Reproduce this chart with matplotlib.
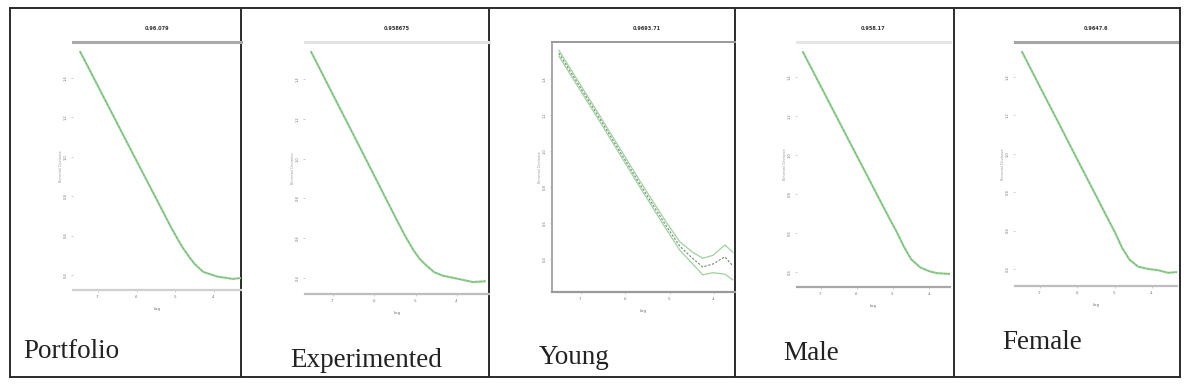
import numpy as np
import matplotlib
matplotlib.use("Agg")
import matplotlib.pyplot as plt

W, H = 1196, 391

# Panel names and the small header text over each curve
groups = ["Portfolio", "Experimented", "Young", "Male", "Female"]
titles = ["0.96.079", "0.958675", "0.9693.71", "0.958.17", "0.9647.6"]

# Tick values shared by the five small plots
x_ticks = [1, 2, 3, 4]
x_tick_labels = ["-7", "-6", "-5", "-4"]
y_ticks = [1, 2, 3, 4, 5, 6]
y_tick_labels = ["0.4", "0.6", "0.8", "1.0", "1.2", "1.4"]

# Curves (log lambda, deviance in tick units)
portfolio_x = [0.54, 1.0, 1.5, 2.0, 2.5, 2.9, 3.05, 3.2, 3.35, 3.5, 3.72, 4.08, 4.49, 4.67]
portfolio_y = [6.66, 5.79, 4.84, 3.89, 2.95, 2.19, 1.93, 1.68, 1.47, 1.28, 1.08, 0.96, 0.90, 0.92]

experimented_x = [0.47, 1.0, 1.5, 2.0, 2.5, 2.75, 2.95, 3.1, 3.28, 3.45, 3.66, 4.08, 4.39, 4.68]
experimented_y = [6.68, 5.60, 4.59, 3.57, 2.55, 2.05, 1.70, 1.48, 1.30, 1.15, 1.06, 0.97, 0.90, 0.92]

young_x = [0.50, 1.43, 2.33, 2.90, 3.23, 3.51, 3.75, 3.98, 4.25, 4.43]
young_y = [6.72, 4.89, 3.08, 1.97, 1.36, 1.03, 0.78, 0.86, 1.06, 0.81]
young_upper = [6.80, 4.97, 3.17, 2.07, 1.48, 1.20, 1.02, 1.10, 1.39, 1.19]
young_lower = [6.64, 4.81, 3.00, 1.88, 1.25, 0.88, 0.56, 0.62, 0.58, 0.42]

male_x = [0.50, 1.0, 1.5, 2.0, 2.5, 2.9, 3.1, 3.3, 3.5, 3.75, 4.0, 4.22, 4.58]
male_y = [6.64, 5.75, 4.86, 3.97, 3.08, 2.37, 2.03, 1.65, 1.33, 1.12, 1.02, 0.97, 0.95]

female_x = [0.52, 1.0, 1.5, 2.0, 2.5, 2.8, 3.0, 3.2, 3.4, 3.63, 3.9, 4.16, 4.43, 4.67]
female_y = [6.65, 5.74, 4.80, 3.85, 2.91, 2.34, 1.97, 1.55, 1.24, 1.06, 1.00, 0.97, 0.90, 0.92]

curves = [(portfolio_x, portfolio_y), (experimented_x, experimented_y),
          (young_x, young_y), (male_x, male_y), (female_x, female_y)]

# Layout in pixels: table cells, plot boxes, limits, caption positions
cell_edges = [9.5, 241, 489, 735, 954, 1180]
table_top, table_bottom = 8, 377
boxes = [(73, 241, 42, 290), (305, 489, 42, 294), (552, 735, 42, 292),
         (797, 950, 42, 287), (1015, 1177, 42, 286)]
xlims = [(0.353, 4.70), (0.32, 4.78), (0.345, 4.48), (0.333, 4.58), (0.33, 4.67)]
ylims = [(0.619, 6.91), (0.60, 6.93), (0.083, 7.03), (0.615, 6.90), (0.557, 6.91)]
top_colors = ["#a9a9a9", "#e2e2e2", "#9a9a9a", "#e6e6e6", "#a5a5a5"]
bottom_colors = ["#d0d0d0", "#bdbdbd", "#9a9a9a", "#a8a8a8", "#bdbdbd"]
caption_pos = [(23, 358), (290, 367), (539, 364), (783, 360), (1002, 349)]

fig = plt.figure(figsize=(W / 100, H / 100), dpi=100)

# Background axes in pixel units for the table grid and captions
bg = fig.add_axes([0, 0, 1, 1])
bg.set_xlim(0, W)
bg.set_ylim(H, 0)
bg.axis("off")
for xe in cell_edges:
    bg.plot([xe, xe], [table_top, table_bottom], color="#2b2b2b", lw=1.4,
            solid_capstyle="projecting")
bg.plot([cell_edges[0], cell_edges[-1]], [table_top, table_top], color="#2b2b2b", lw=1.4)
bg.plot([cell_edges[0], cell_edges[-1]], [table_bottom, table_bottom], color="#2b2b2b", lw=1.4)
for name, (cx, cy) in zip(groups, caption_pos):
    bg.text(cx, cy, name, family="Liberation Serif", fontsize=19.5,
            color="#222222", va="baseline", ha="left")

for i in range(5):
    left, right, top, bottom = boxes[i]
    ax = fig.add_axes([left / W, 1 - bottom / H, (right - left) / W, (bottom - top) / H])
    ax.patch.set_alpha(0)
    ax.set_xlim(*xlims[i])
    ax.set_ylim(*ylims[i])
    for side in ["left", "right"]:
        ax.spines[side].set_visible(False)
    ax.spines["top"].set_color(top_colors[i])
    ax.spines["top"].set_linewidth(2.2 if i != 2 else 1.4)
    ax.spines["bottom"].set_color(bottom_colors[i])
    ax.spines["bottom"].set_linewidth(1.6)
    if i == 2:
        ax.spines["left"].set_visible(True)
        ax.spines["left"].set_color("#9a9a9a")
        ax.spines["left"].set_linewidth(1.2)
    ax.set_xticks(x_ticks)
    ax.set_xticklabels(x_tick_labels)
    ax.set_yticks(y_ticks)
    ax.set_yticklabels(y_tick_labels, rotation=90, va="center")
    ax.tick_params(axis="both", length=1.5, width=0.5, colors="#bbbbbb",
                   labelsize=2.6, labelcolor="#777777", pad=2)
    ax.set_xlabel("Log", fontsize=2.8, color="#666666", labelpad=6)
    ax.set_ylabel("Binomial Deviance", fontsize=2.4, color="#999999", labelpad=1)
    ax.text(0.5 if i != 2 else 0.52, 1.045, titles[i], transform=ax.transAxes,
            ha="center", va="bottom", fontsize=3.6, color="#333333", weight="bold")

    cx, cy = curves[i]
    if i == 2:
        ax.plot(cx, young_upper, color="#9fd29f", lw=0.9)
        ax.plot(cx, young_lower, color="#9fd29f", lw=0.9)
        ax.plot(cx, cy, color="#6d8a6d", lw=0.8, ls=(0, (2, 1.5)))
    else:
        ax.plot(cx, cy, color="#8fcf8f", lw=1.5)
        ax.plot(cx, cy, color="#5e9a5e", lw=0.5, ls=(0, (3, 3)), alpha=0.6)

fig.savefig("out.png", dpi=100)
